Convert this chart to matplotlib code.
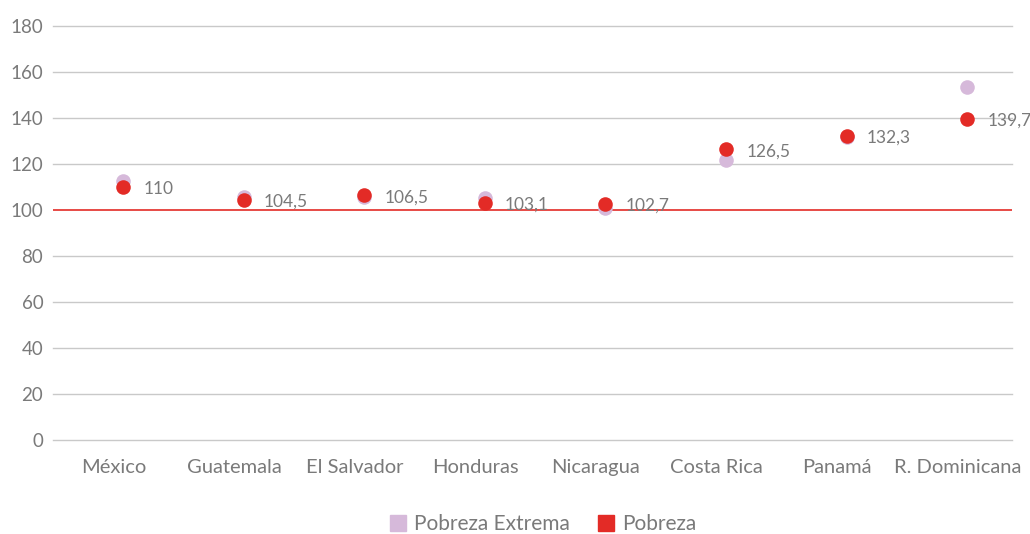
import numpy as np
import matplotlib.pyplot as plt
from matplotlib.lines import Line2D

# ── Data ──────────────────────────────────────────────────────────────────────
countries = ["México", "Guatemala", "El Salvador", "Honduras",
             "Nicaragua", "Costa Rica", "Panamá", "R. Dominicana"]
pobreza_extrema = [112.6, 105.6, 105.7, 105.2, 100.7, 121.8, 131.8, 153.5]
pobreza = [110, 104.5, 106.5, 103.1, 102.7, 126.5, 132.3, 139.7]
pobreza_labels = ["110", "104,5", "106,5", "103,1", "102,7", "126,5", "132,3", "139,7"]
y_ticks = [0, 20, 40, 60, 80, 100, 120, 140, 160, 180]

RED = "#E32B26"
LILAC = "#D6B9DA"
GREY_TXT = "#7A7A7A"
GRID = "#C9C9C9"

plt.rcParams["font.family"] = ["Lato", "DejaVu Sans"]

fig = plt.figure(figsize=(10.30, 5.34), dpi=100)
ax = fig.add_axes([0.0515, 0.176, 0.931, 0.775])

x = np.arange(len(countries))

for yv in y_ticks:
    if yv == 100:
        continue
    ax.axhline(yv, color=GRID, lw=1, zorder=0, clip_on=False)
ax.axhline(100, color=RED, lw=1.2, zorder=1)

ax.scatter(x, pobreza_extrema, s=110, color=LILAC, zorder=3, linewidths=0)
ax.scatter(x, pobreza, s=110, color=RED, zorder=4, linewidths=0)

for xi, yi, lab in zip(x, pobreza, pobreza_labels):
    ax.annotate(lab, (xi, yi), xytext=(14.5, -1.5), textcoords="offset points",
                ha="left", va="center", fontsize=12.5, color=GREY_TXT, zorder=5)

ax.set_xlim(-0.58, 7.37)
ax.set_ylim(0, 180)
ax.set_yticks(y_ticks)
ax.set_xticks(x - 0.08)
ax.set_xticklabels(countries)
ax.tick_params(axis="y", length=0, labelsize=13.5, labelcolor=GREY_TXT, pad=7)
ax.tick_params(axis="x", length=0, labelsize=14.5, labelcolor=GREY_TXT, pad=14)
for s in ax.spines.values():
    s.set_visible(False)

handles = [Line2D([], [], marker="s", ls="", color=LILAC, markersize=11),
           Line2D([], [], marker="s", ls="", color=RED, markersize=11)]
fig.legend(handles, ["Pobreza Extrema", "Pobreza"], loc="center",
           bbox_to_anchor=(0.526, 0.018), ncol=2, frameon=False,
           fontsize=15, labelcolor=GREY_TXT, handletextpad=0.3,
           columnspacing=1.2, handlelength=1.0)

fig.savefig("out.png", dpi=100)
